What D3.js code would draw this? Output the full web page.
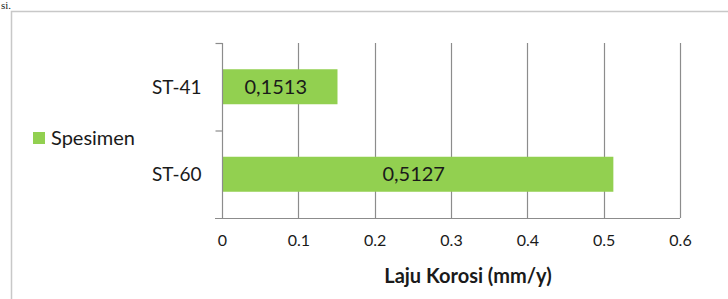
<!DOCTYPE html>
<html>
  <head>
    <script src="https://d3js.org/d3.v7.min.js"></script>
    <style>
      body { margin: 0; background: #fff; }
      text { font-family: Lato, "Open Sans", sans-serif; fill: #1a1a1a; }
    </style>
  </head>
  <body>
    <div id="chart"></div>
    <script>
      const categories = ["ST-41", "ST-60"];
      const values = [0.1513, 0.5127];
      const valueLabels = ["0,1513", "0,5127"];
      const xTicks = [0, 0.1, 0.2, 0.3, 0.4, 0.5, 0.6];
      const seriesName = "Spesimen";
      const axisTitle = "Laju Korosi (mm/y)";

      const W = 728, H = 299;
      const margin = { top: 43, right: 48, bottom: 81, left: 222 };
      const width = W - margin.left - margin.right;
      const height = H - margin.top - margin.bottom;

      const root = d3.select("#chart").append("svg")
        .attr("width", W).attr("height", H);

      // caption fragment above the frame, and the frame
      root.append("text").attr("x", 1).attr("y", 9)
        .style("font-family", "Liberation Serif, serif").style("font-size", "11px")
        .text("si.");
      root.append("path")
        .attr("d", `M11.5,${H} V11.5 H${W}`)
        .attr("fill", "none").attr("stroke", "#c8c8c8").attr("stroke-width", 1.5);

      const svg = root.append("g")
        .attr("transform", `translate(${margin.left}, ${margin.top})`);

      const x = d3.scaleLinear().domain([0, 0.6]).range([0, width]);
      const y = d3.scaleBand().domain(categories).range([0, height])
        .paddingInner(0.6).paddingOuter(0.3);

      // gridlines
      svg.append("g").selectAll("line")
        .data(xTicks.slice(1)).join("line")
        .attr("x1", d => Math.round(x(d)) + 0.5).attr("x2", d => Math.round(x(d)) + 0.5)
        .attr("y1", 0).attr("y2", height)
        .attr("stroke", "#8c8c8c").attr("stroke-width", 1.2);

      // bars
      svg.selectAll("rect.bar")
        .data(values).join("rect").attr("class", "bar")
        .attr("x", 0)
        .attr("y", (d, i) => y(categories[i]))
        .attr("width", d => x(d))
        .attr("height", y.bandwidth())
        .attr("fill", "#92d050");

      svg.selectAll("text.vlab")
        .data(values).join("text").attr("class", "vlab")
        .attr("x", d => x(d) / 2 - 4)
        .attr("y", (d, i) => y(categories[i]) + y.bandwidth() / 2)
        .attr("dy", "0.36em")
        .attr("text-anchor", "middle")
        .style("font-size", "20px")
        .text((d, i) => valueLabels[i]);

      // x axis
      const xAxis = svg.append("g")
        .attr("transform", `translate(0, ${height})`)
        .call(d3.axisBottom(x).tickValues(xTicks).tickFormat(d3.format("")).tickSize(0).tickPadding(17));
      xAxis.select(".domain").attr("d", `M-7,0.5 H${width}`).attr("stroke", "#8c8c8c").attr("stroke-width", 1.2);
      xAxis.selectAll("text").style("font-size", "16px").style("font-family", "Lato, sans-serif").attr("fill", "#1a1a1a");

      // y axis with band-boundary ticks
      const yAxis = svg.append("g").attr("transform", "translate(0.5, 0)");
      yAxis.append("line").attr("x1", 0).attr("x2", 0).attr("y1", 0).attr("y2", height)
        .attr("stroke", "#8c8c8c").attr("stroke-width", 1.2);
      const bounds = [0, height / 2];
      yAxis.selectAll("line.tk").data(bounds).join("line").attr("class", "tk")
        .attr("x1", -7).attr("x2", 0).attr("y1", d => d + 0.5).attr("y2", d => d + 0.5)
        .attr("stroke", "#8c8c8c").attr("stroke-width", 1.2);
      yAxis.selectAll("text").data(categories).join("text")
        .attr("x", -21)
        .attr("y", d => y(d) + y.bandwidth() / 2)
        .attr("dy", "0.36em")
        .attr("text-anchor", "end")
        .style("font-size", "19px")
        .text(d => d);

      // axis title
      svg.append("text")
        .attr("x", width / 2 + 17).attr("y", height + 65)
        .attr("text-anchor", "middle")
        .style("font-size", "20px").style("font-weight", "bold")
        .text(axisTitle);

      // legend
      const lg = root.append("g").attr("transform", "translate(33, 132)");
      lg.append("rect").attr("width", 12).attr("height", 12).attr("fill", "#92d050");
      lg.append("text").attr("x", 18).attr("y", 6).attr("dy", "0.36em")
        .style("font-size", "20px").text(seriesName);
    </script>
  </body>
</html>
